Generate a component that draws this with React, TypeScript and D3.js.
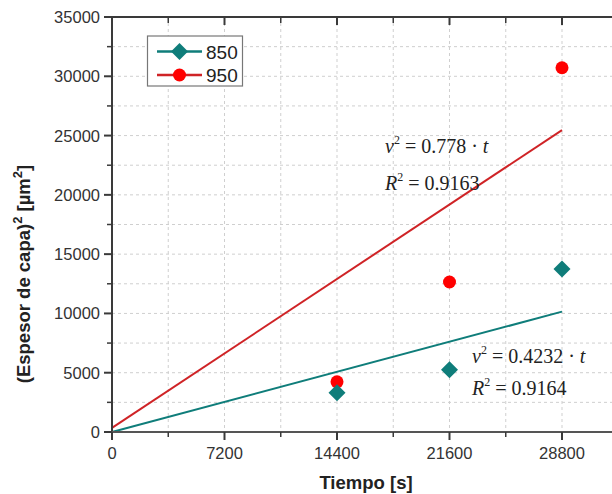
import React from "react";
import * as d3 from "d3";

const xTicks = [0, 7200, 14400, 21600, 28800];
const yTicks = [0, 5000, 10000, 15000, 20000, 25000, 30000, 35000];
const seriesNames = ["850", "950"];
const times = [14400, 21600, 28800];
const values850 = [3300, 5250, 13740];
const values950 = [4230, 12650, 30720];
const fit850 = [[0, 0], [28800, 10150]];
const fit950 = [[0, 350], [28800, 25460]];

const W = 612, H = 494;
const teal = "#0f7d7a";
const red = "#ff0000";
const redLine = "#cf2326";

export default function App() {
  const x = d3.scaleLinear().domain([0, 36000]).range([112, 674.5]);
  const y = d3.scaleLinear().domain([0, 35000]).range([432, 17]);
  const line = d3.line<number[]>().x(d => x(d[0])).y(d => y(d[1]));
  const xGrid = d3.range(3600, 36001, 3600);
  const yGrid = d3.range(2500, 35000, 2500);
  const xMinor = d3.range(3600, 36001, 7200);
  const yMinor = d3.range(2500, 35000, 5000);
  const diamond = (cx: number, cy: number, r: number) =>
    `M${cx},${cy - r}L${cx + r},${cy}L${cx},${cy + r}L${cx - r},${cy}Z`;
  const axisCol = "#3a3a3a";
  const tickFont = { fontFamily: "Liberation Sans, Arial, sans-serif", fontSize: 16.5, fill: "#333" };
  const eqFont = { fontFamily: "Liberation Serif, Times New Roman, serif", fontSize: 20, fill: "#222" };

  return (
    <svg width={W} height={H} style={{ position: "absolute", left: 0, top: 0, background: "#fff" }}>
      <rect x={0} y={0} width={W} height={H} fill="#fff" />
      {/* grid */}
      {xGrid.map(v => (
        <line key={"gx" + v} x1={x(v)} x2={x(v)} y1={y(35000)} y2={y(0)} stroke="#cfcfcf" strokeWidth={1} strokeDasharray="3,3" />
      ))}
      {yGrid.map(v => (
        <line key={"gy" + v} x1={x(0)} x2={W} y1={y(v)} y2={y(v)} stroke="#cfcfcf" strokeWidth={1} strokeDasharray="3,3" />
      ))}
      {/* fit lines */}
      <path d={line(fit950 as any) || ""} stroke={redLine} strokeWidth={2} fill="none" />
      <path d={line(fit850 as any) || ""} stroke={teal} strokeWidth={2} fill="none" />
      {/* points */}
      {times.map((t, i) => (
        <circle key={"r" + i} cx={x(t)} cy={y(values950[i])} r={6.5} fill={red} />
      ))}
      {times.map((t, i) => (
        <path key={"d" + i} d={diamond(x(t), y(values850[i]), 8.5)} fill={teal} />
      ))}
      {/* axes */}
      <line x1={x(0)} x2={x(0)} y1={y(35000)} y2={y(0) + 1} stroke={axisCol} strokeWidth={2} />
      <line x1={x(0) - 1} x2={W} y1={y(0)} y2={y(0)} stroke="#555" strokeWidth={2} />
      <line x1={x(0) - 1} x2={W} y1={y(35000)} y2={y(35000)} stroke={axisCol} strokeWidth={2} />
      {xTicks.map(v => (
        <g key={"xt" + v}>
          <line x1={x(v)} x2={x(v)} y1={y(0)} y2={y(0) + 8} stroke={axisCol} strokeWidth={2} />
          <line x1={x(v)} x2={x(v)} y1={y(35000)} y2={y(35000) + 8} stroke={axisCol} strokeWidth={2} />
          <text x={x(v)} y={459} textAnchor="middle" {...tickFont}>{v}</text>
        </g>
      ))}
      {xMinor.map(v => (
        <g key={"xm" + v}>
          <line x1={x(v)} x2={x(v)} y1={y(0)} y2={y(0) + 5} stroke={axisCol} strokeWidth={1.5} />
          <line x1={x(v)} x2={x(v)} y1={y(35000)} y2={y(35000) + 6} stroke={axisCol} strokeWidth={1.5} />
        </g>
      ))}
      {yTicks.map(v => (
        <g key={"yt" + v}>
          <line x1={x(0) - 8} x2={x(0)} y1={y(v)} y2={y(v)} stroke={axisCol} strokeWidth={2} />
          <text x={100} y={y(v) + 6} textAnchor="end" {...tickFont}>{v}</text>
        </g>
      ))}
      {yMinor.map(v => (
        <line key={"ym" + v} x1={x(0) - 5} x2={x(0)} y1={y(v)} y2={y(v)} stroke={axisCol} strokeWidth={1.5} />
      ))}
      {/* axis titles */}
      <text x={366} y={489} textAnchor="middle" fontFamily="Liberation Sans, Arial, sans-serif" fontWeight="bold" fontSize={18.5} fill="#222">Tiempo [s]</text>
      <text transform="translate(30,274) rotate(-90)" textAnchor="middle" fontFamily="Liberation Sans, Arial, sans-serif" fontWeight="bold" fontSize={18.5} fill="#222">
        (Espesor de capa)<tspan dy={-8} fontSize={13}>2</tspan><tspan dy={8}> [µm</tspan><tspan dy={-8} fontSize={13}>2</tspan><tspan dy={8}>]</tspan>
      </text>
      {/* legend */}
      <rect x={147.5} y={36} width={95} height={50} fill="#fff" stroke="#777" strokeWidth={1.2} />
      <line x1={157} x2={202} y1={51.5} y2={51.5} stroke={teal} strokeWidth={2.5} />
      <path d={diamond(179.5, 51.5, 8.5)} fill={teal} />
      <text x={206} y={58.5} fontFamily="Liberation Sans, Arial, sans-serif" fontSize={19} fill="#222">{seriesNames[0]}</text>
      <line x1={157} x2={202} y1={75} y2={75} stroke={redLine} strokeWidth={2.5} />
      <circle cx={179.5} cy={75} r={6.5} fill={red} />
      <text x={206} y={82} fontFamily="Liberation Sans, Arial, sans-serif" fontSize={19} fill="#222">{seriesNames[1]}</text>
      {/* equations */}
      <text x={385} y={153} {...eqFont}>
        <tspan fontStyle="italic">v</tspan><tspan dy={-9} fontSize={12}>2</tspan><tspan dy={9}> = 0.778 · </tspan><tspan fontStyle="italic">t</tspan>
      </text>
      <text x={385} y={190} {...eqFont}>
        <tspan fontStyle="italic">R</tspan><tspan dy={-9} fontSize={12}>2</tspan><tspan dy={9}> = 0.9163</tspan>
      </text>
      <text x={472} y={363} {...eqFont}>
        <tspan fontStyle="italic">v</tspan><tspan dy={-9} fontSize={12}>2</tspan><tspan dy={9}> = 0.4232 · </tspan><tspan fontStyle="italic">t</tspan>
      </text>
      <text x={472} y={395} {...eqFont}>
        <tspan fontStyle="italic">R</tspan><tspan dy={-9} fontSize={12}>2</tspan><tspan dy={9}> = 0.9164</tspan>
      </text>
    </svg>
  );
}
